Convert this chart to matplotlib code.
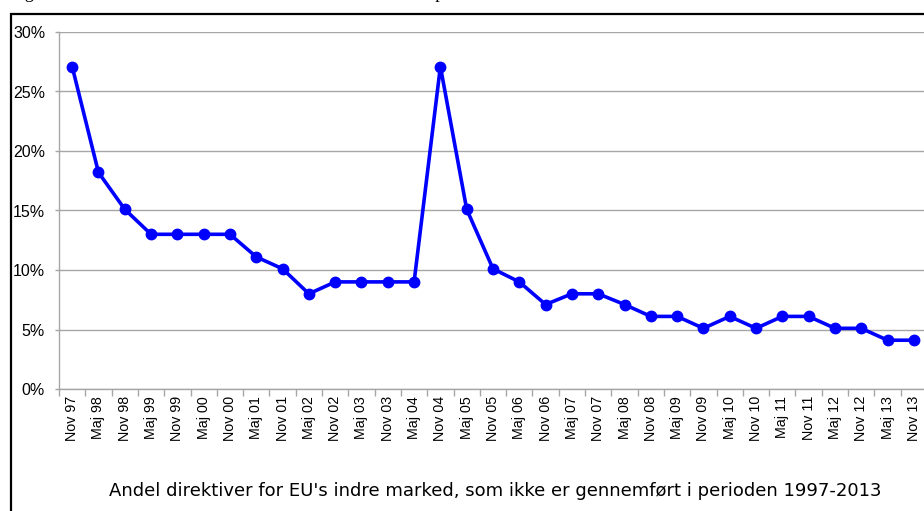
import matplotlib
matplotlib.use("Agg")
import matplotlib.pyplot as plt
from matplotlib.patches import Rectangle
from matplotlib.ticker import FixedLocator, FuncFormatter

labels = ["Nov 97", "Maj 98", "Nov 98", "Maj 99", "Nov 99", "Maj 00", "Nov 00",
          "Maj 01", "Nov 01", "Maj 02", "Nov 02", "Maj 03", "Nov 03", "Maj 04",
          "Nov 04", "Maj 05", "Nov 05", "Maj 06", "Nov 06", "Maj 07", "Nov 07",
          "Maj 08", "Nov 08", "Maj 09", "Nov 09", "Maj 10", "Nov 10", "Maj 11",
          "Nov 11", "Maj 12", "Nov 12", "Maj 13", "Nov 13"]
values = [27.1, 18.2, 15.1, 13, 13, 13, 13, 11.1, 10.1, 8, 9, 9, 9, 9,
          27.1, 15.1, 10.1, 9, 7.1, 8, 8, 7.1, 6.1, 6.1, 5.1, 6.1, 5.1, 6.1, 6.1, 5.1, 5.1, 4.1, 4.1]
yticks = [0, 5, 10, 15, 20, 25, 30]
xtitle = "Andel direktiver for EU's indre marked, som ikke er gennemført i perioden 1997-2013"
title = "Figur 2: Restancen af EU-direktiver for det indre marked i perioden 1997-2013"

W, H = 924, 511
fig = plt.figure(figsize=(W / 100, H / 100), dpi=100)
fig.patch.set_facecolor("white")

# outer frame (extends past right/bottom edges)
fig.patches.append(Rectangle((11 / W, -0.05), 1.2, 1 - 14 / H + 0.05,
                             transform=fig.transFigure, fill=False,
                             edgecolor="black", linewidth=1.6))
# title mostly clipped at the top edge, as in the reference
fig.text(10 / W, 1 + 2 / H, title, family="Liberation Serif", fontsize=13,
         ha="left", va="baseline", color="black")

ax = fig.add_axes([59 / W, 122 / H, (927 - 59) / W, (389 - 32) / H])
x = list(range(len(values)))
ax.plot(x, values, color="#0000ff", linewidth=2.6, marker="o",
        markersize=7.5, zorder=3, clip_on=False)

ax.set_xlim(-0.5, len(values) - 0.5)
ax.set_ylim(0, 30)
ax.set_yticks(yticks)
ax.yaxis.set_major_formatter(FuncFormatter(lambda v, p: f"{int(v)}%"))
ax.grid(axis="y", color="#a6a6a6", linewidth=1)
ax.set_axisbelow(True)

ax.xaxis.set_major_locator(FixedLocator([i - 0.5 for i in range(len(values) + 1)]))
ax.xaxis.set_major_formatter(FuncFormatter(lambda v, p: ""))
ax.xaxis.set_minor_locator(FixedLocator(x))
ax.set_xticklabels(labels, minor=True, rotation=90, family="Liberation Sans",
                   fontsize=10.3)
ax.tick_params(axis="x", which="major", length=5, color="#a6a6a6", width=1)
ax.tick_params(axis="x", which="minor", length=0, pad=5)
ax.tick_params(axis="y", length=3, color="#a6a6a6", width=1, pad=7,
               labelsize=11.5)
for t in ax.get_yticklabels():
    t.set_family("Liberation Sans")

for s in ["top", "right"]:
    ax.spines[s].set_visible(False)
for s in ["left", "bottom"]:
    ax.spines[s].set_color("#a6a6a6")
    ax.spines[s].set_linewidth(1)

fig.text(495 / W, 1 - 491 / H, xtitle, family="DejaVu Sans", fontsize=13.0,
         ha="center", va="center", color="black")

fig.savefig("out.png", dpi=100)
